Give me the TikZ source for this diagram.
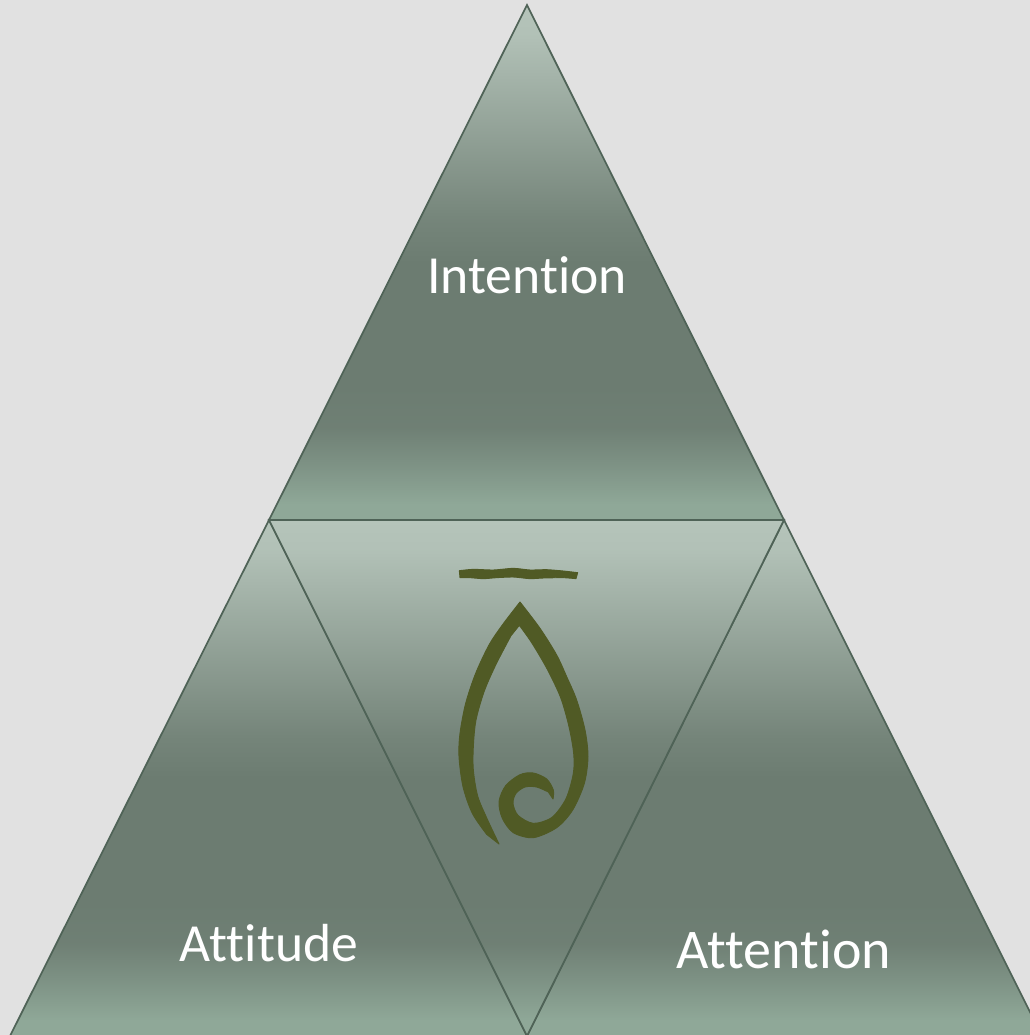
\documentclass[tikz,border=0pt]{standalone}
\usepackage{fontspec}
\setmainfont[Ligatures=NoCommon,Contextuals=NoAlternate]{Carlito}
\definecolor{bgc}{HTML}{E1E1E1}
\definecolor{edgec}{HTML}{4F6357}
\definecolor{gtop}{HTML}{B5C4BA}
\definecolor{gmid}{HTML}{6C7C71}
\definecolor{gbot}{HTML}{8FA898}
\definecolor{flamec}{HTML}{505A25}
\pgfdeclareverticalshading{triface}{100bp}{
  color(0bp)=(gbot); color(25bp)=(gbot); color(26.5bp)=(gbot); color(30bp)=(gbot!55!gmid); color(34bp)=(gmid!92!gbot);
  color(38bp)=(gmid); color(50bp)=(gmid); color(54bp)=(gmid!88!gtop); color(72bp)=(gtop!95!gmid); color(75bp)=(gtop); color(100bp)=(gtop)}
\tikzset{
  tri/.style={shading=triface,shading angle=0,draw=edgec,line width=1.3pt,line join=miter},
  label text/.style={text=white,inner sep=0pt,anchor=center},
  flame/.style={fill=flamec,draw=flamec,line width=0.7pt,line join=round},
}
\begin{document}
\begin{tikzpicture}[x=0.75pt,y=-0.75pt]
\useasboundingbox (0,0) rectangle (1030,1035);
\fill[bgc] (0,0) rectangle (1030,1035);
\begin{scope}
\clip (0,0) rectangle (1030,1035);
\coordinate (apex) at (527,5);
\coordinate (ml) at (269,520);
\coordinate (mr) at (784,520);
\coordinate (bl) at (10,1036);
\coordinate (bm) at (527,1036);
\coordinate (br) at (1042,1036);
\path[tri] (apex) -- (mr) -- (ml) -- cycle;
\path[tri] (ml) -- (bm) -- (bl) -- cycle;
\path[tri] (mr) -- (br) -- (bm) -- cycle;
\path[tri] (ml) -- (mr) -- (bm) -- cycle;
\end{scope}
\node[label text,font=\fontsize{40.2pt}{44pt}\selectfont] (intention) at (527,275) {Intention};
\node[label text,font=\fontsize{40.2pt}{44pt}\selectfont] (attitude) at (269,943) {Attitude};
\node[label text,font=\fontsize{42pt}{46pt}\selectfont] (attention) at (784,949) {Attention};
\begin{scope}[shift={(430,540)},x=0.25pt,y=-0.25pt]
\path[flame] plot[smooth,tension=.4] coordinates {(88,92)(130,88)(190,90)(250,85)(300,90)(350,89)(400,93)(443,98)}
  -- plot[smooth,tension=.4] coordinates {(438,116)(400,113)(340,114)(300,116)(250,111)(200,113)(160,116)(120,113)(90,113)} -- cycle;
\path[flame] plot[smooth,tension=.5] coordinates {(270,186)(330,265)(380,345)(410,410)(440,480)(465,570)(474,650)(463,730)(428,810)(380,863)(310,893)(250,878)(217,835)(207,785)(227,737)(270,704)(310,699)(350,717)(370,750)(369,777)}
  -- plot[smooth,tension=.5] coordinates {(355,756)(320,741)(285,741)(258,760)(249,790)(264,826)(310,850)(366,832)(408,776)(430,700)(431,640)(417,560)(392,473)(352,388)(305,308)(268,256)}
  -- plot[smooth,tension=.5] coordinates {(243,287)(198,373)(163,453)(138,540)(130,620)(130,690)(143,768)(172,838)(207,912)}
  -- plot[smooth,tension=.5] coordinates {(170,883)(127,820)(99,740)(87,650)(90,580)(107,490)(137,400)(177,315)(217,255)(270,186)} -- cycle;
\end{scope}
\end{tikzpicture}
\end{document}
